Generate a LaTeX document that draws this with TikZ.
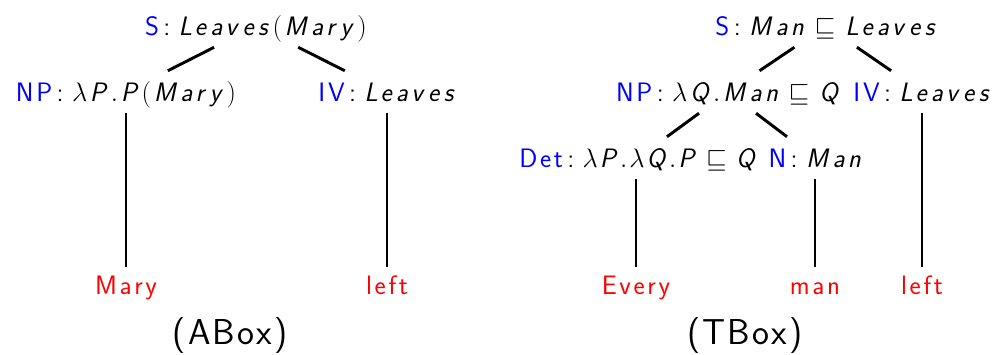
\RequirePackage{fix-cm}
\documentclass[tikz,border=0pt]{standalone}
\DeclareSymbolFont{sfletters}{OT1}{cmss}{m}{sl}
\newcommand\mysfl[1]{\DeclareMathSymbol{#1}{\mathalpha}{sfletters}{`#1}}
\mysfl{L}\mysfl{e}\mysfl{a}\mysfl{v}\mysfl{s}\mysfl{M}\mysfl{r}\mysfl{y}\mysfl{P}\mysfl{Q}\mysfl{n}
% letter spacing helper
\def\lspg{2pt}
\def\lsp#1{\lspA#1\relax}
\def\lspA#1{#1\lspB}
\def\lspB#1{\ifx#1\relax\else\kern\lspg\relax#1\expandafter\lspB\fi}
\begin{document}
\begin{tikzpicture}[x=0.75pt,y=-0.75pt,
  lab/.style={font=\fontsize{20}{24}\selectfont\sffamily, inner xsep=2pt, inner ysep=4.5pt, text height=18pt, text depth=4.5pt},
  leaf/.style={lab, text=red, inner ysep=2.25pt},
  boxcap/.style={font=\fontsize{27}{32}\selectfont\sffamily, inner sep=0pt},
  edge/.style={line width=2.2pt}]
\useasboundingbox (0,0) rectangle (996,354);
\newcommand\cat[1]{\textcolor{blue}{\lsp{#1}}\,:\ }
% ABox tree
\node[lab] (s1) at (256,26) {\cat{S}$\lsp{Leaves(Mary)}$};
\node[lab] (np1) at (126,92) {\cat{NP}$\lsp{\lambda P.P(Mary)}$};
\node[lab] (iv1) at (387,92) {\cat{IV}$\lsp{Leaves}$};
\node[leaf] (w1) at (126,285) {\lsp{Mary}};
\node[leaf] (w2) at (387,285) {\lsp{left}};
\node[boxcap] (ab) at (230,336) {\def\lspg{1.6pt}\lsp{(ABox)}};
\draw[edge] (s1) -- (np1);
\draw[edge] (s1) -- (iv1);
\draw[edge] (w1.north) -- (w1.north |- np1.south);
\draw[edge] (w2.north) -- (w2.north |- iv1.south);
% TBox tree
\node[lab] (s2) at (826,26) {\cat{S}$\lsp{Man\sqsubseteq Leaves}$};
\node[lab] (np2) at (728,92) {\cat{NP}$\lsp{\lambda Q.Man\sqsubseteq Q}$};
\node[lab] (iv2) at (922,92) {\cat{IV}$\lsp{Leaves}$};
\node[lab] (det) at (638,158) {\cat{Det}\def\lspg{1.5pt}$\lsp{\lambda P.\lambda Q.P\sqsubseteq Q}$};
\node[lab] (n) at (815,158) {\cat{N}$\lsp{Man}$};
\node[leaf] (w3) at (636,285) {\lsp{Every}};
\node[leaf] (w4) at (815,285) {\lsp{man}};
\node[leaf] (w5) at (922,285) {\lsp{left}};
\node[boxcap] (tb) at (745,336) {\def\lspg{1.6pt}\lsp{(TBox)}};
\draw[edge] (s2) -- (np2);
\draw[edge] (s2) -- (iv2);
\draw[edge] (np2) -- (det);
\draw[edge] (np2) -- (n);
\draw[edge] (w3.north) -- (w3.north |- det.south);
\draw[edge] (w4.north) -- (w4.north |- n.south);
\draw[edge] (w5.north) -- (w5.north |- iv2.south);
\end{tikzpicture}
\end{document}
